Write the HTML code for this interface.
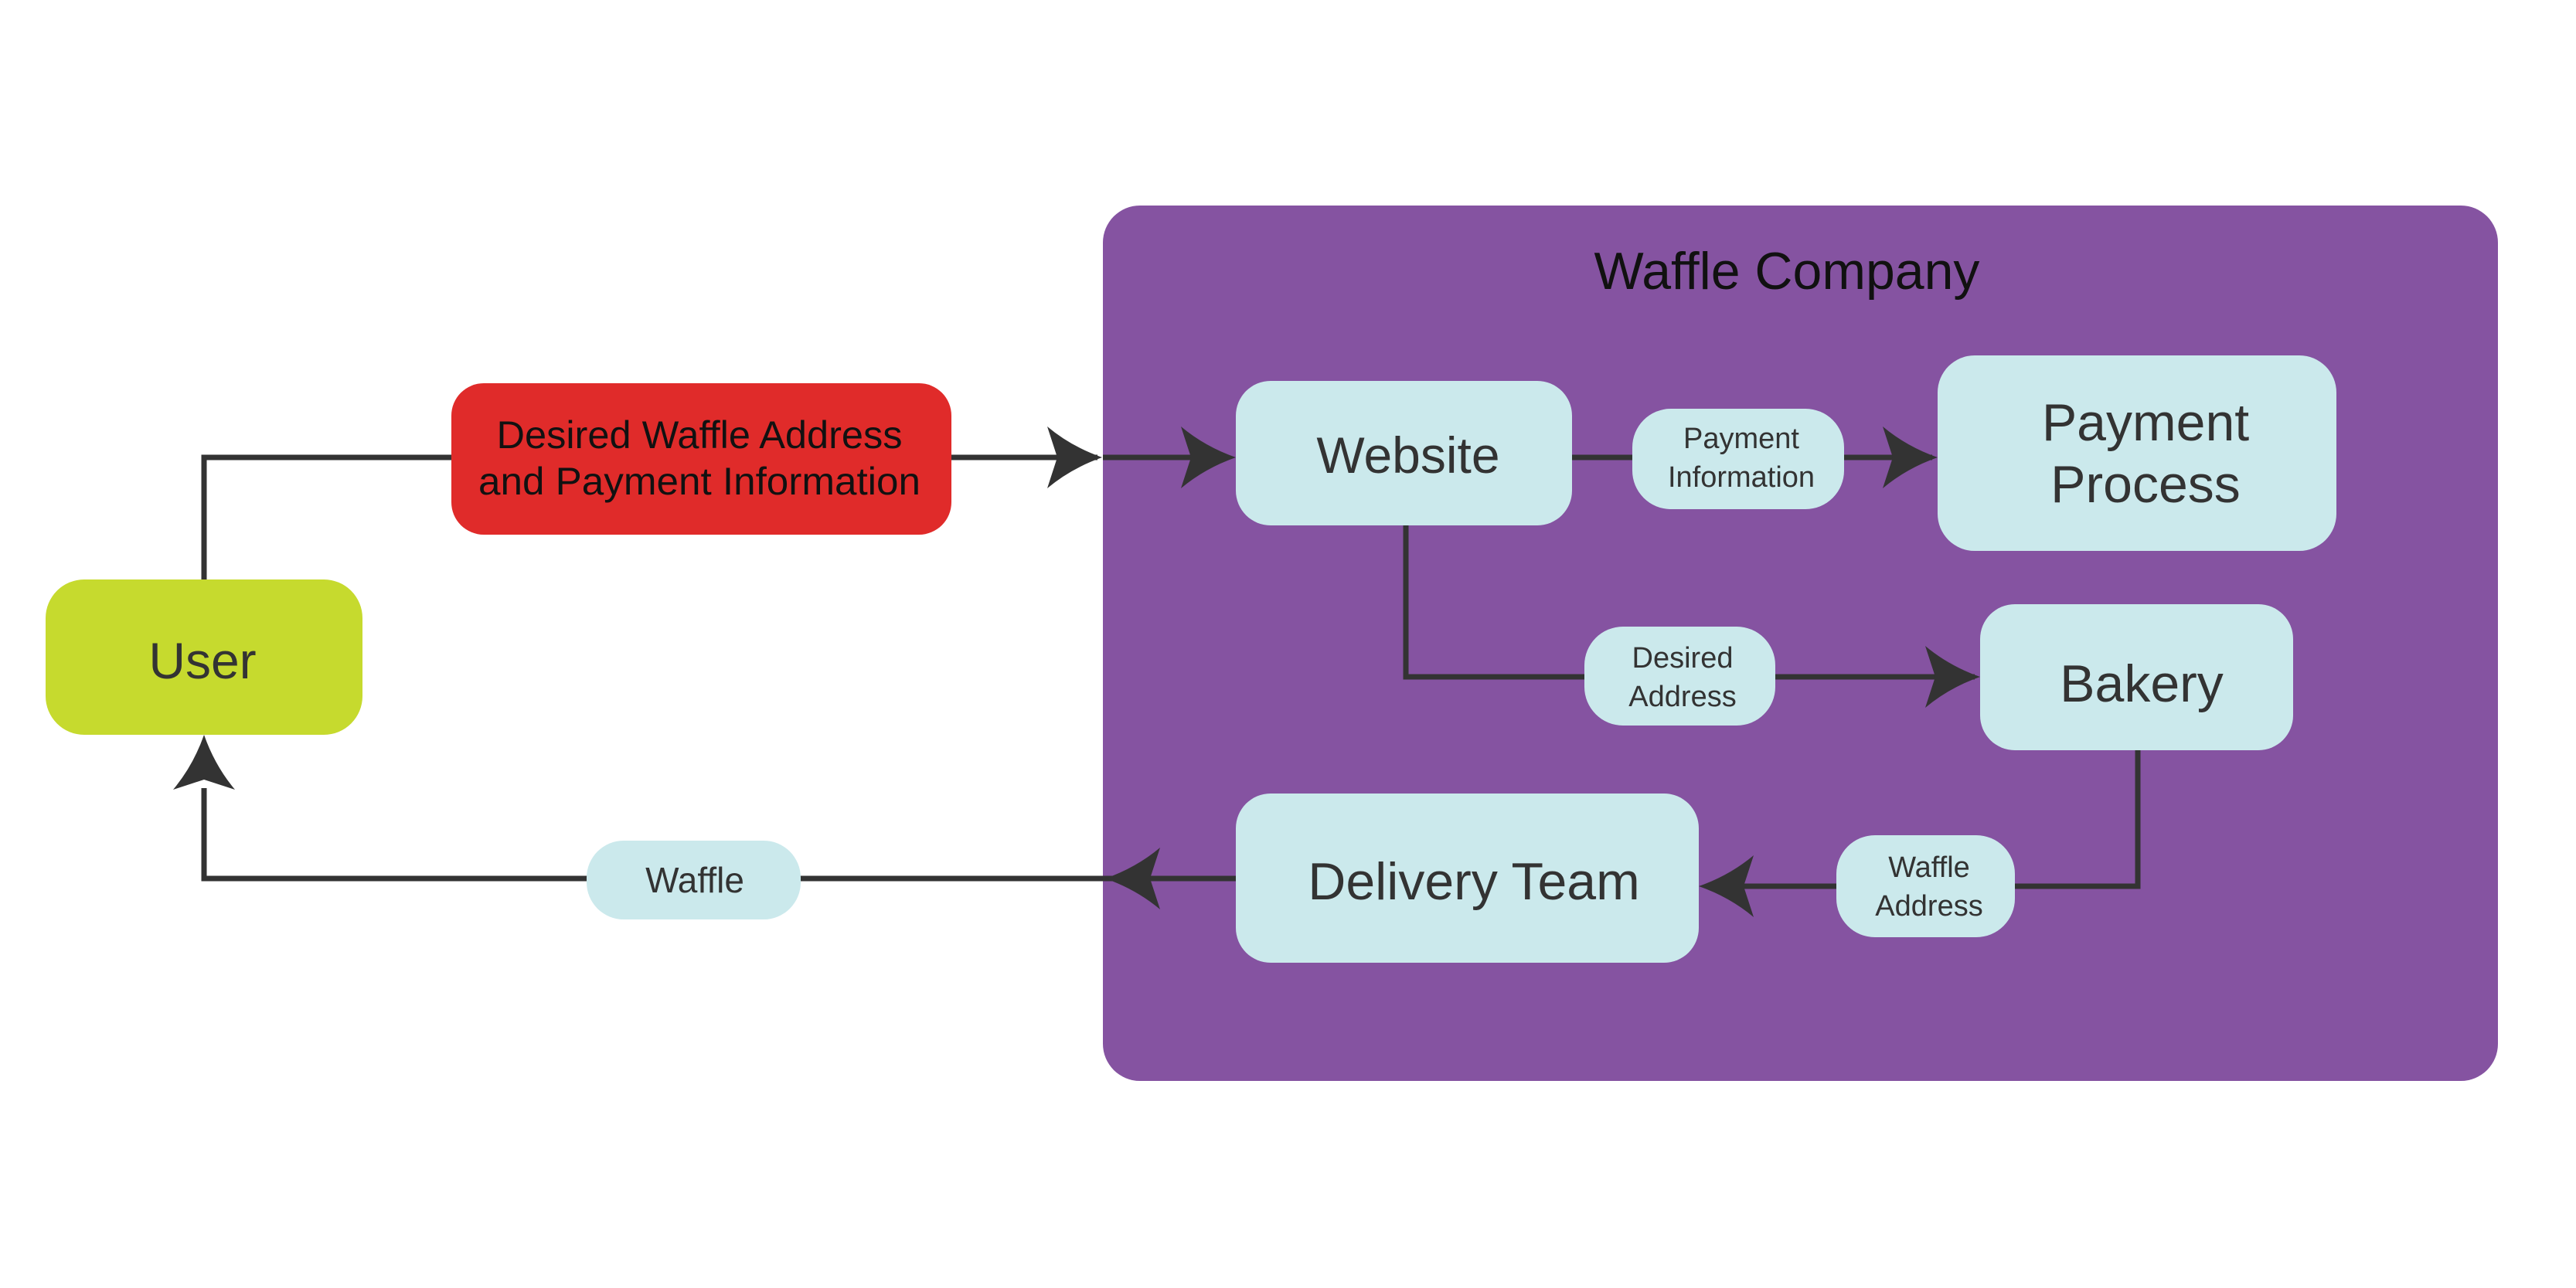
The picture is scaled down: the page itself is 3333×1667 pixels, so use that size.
<!DOCTYPE html>
<html><head><meta charset="utf-8"><style>
html,body{margin:0;padding:0;background:#fff;}
svg{display:block;}
text{font-family:"Liberation Sans Narrow","Liberation Sans",sans-serif;fill:#333;text-anchor:middle;}
</style></head><body>
<svg width="3333" height="1667" viewBox="0 0 3333 1667" xmlns="http://www.w3.org/2000/svg">
<defs>
<path id="ah" d="M0,0 Q-40,-14 -71,-40 L-58,0 L-71,40 Q-40,14 0,0 Z" fill="#333"/>
</defs>
<rect x="1427" y="266" width="1805" height="1133" rx="48" fill="#8553a1"/>
<text x="2312" y="374" font-size="68" style="fill:#111">Waffle Company</text>

<g stroke="#333" stroke-width="7" fill="none">
<path d="M264,750 V592 H1420"/>
<path d="M1427,592 H1590"/>
<path d="M2034,592 H2500"/>
<path d="M1819,680 V876 H2555"/>
<path d="M2766,971 V1147 H2215"/>
<path d="M1599,1137 H264 V1020"/>
</g>
<use href="#ah" x="1426" y="592"/>
<use href="#ah" x="1599" y="592"/>
<use href="#ah" x="2507" y="592"/>
<use href="#ah" x="2562" y="876"/>
<use href="#ah" transform="translate(2198,1147) rotate(180)"/>
<use href="#ah" transform="translate(1430,1137) rotate(180)"/>
<use href="#ah" transform="translate(264,951) rotate(-90)"/>

<rect x="59" y="750" width="410" height="201" rx="50" fill="#c6da2e"/>
<text x="262" y="878" font-size="66">User</text>

<rect x="584" y="496" width="647" height="196" rx="42" fill="#e02b2a"/>
<text x="905" y="580" font-size="50" textLength="525" lengthAdjust="spacingAndGlyphs" style="fill:#111">Desired Waffle Address</text>
<text x="905" y="640" font-size="50" textLength="572" lengthAdjust="spacingAndGlyphs" style="fill:#111">and Payment Information</text>

<rect x="1599" y="493" width="435" height="187" rx="45" fill="#cbe9ec"/>
<text x="1822" y="612" font-size="66">Website</text>

<rect x="2112" y="529" width="274" height="130" rx="50" fill="#cbe9ec"/>
<text x="2253" y="580" font-size="38">Payment</text>
<text x="2253" y="630" font-size="38">Information</text>

<rect x="2507" y="460" width="516" height="253" rx="48" fill="#cbe9ec"/>
<text x="2776" y="570" font-size="68">Payment</text>
<text x="2776" y="650" font-size="68">Process</text>

<rect x="2050" y="811" width="247" height="128" rx="50" fill="#cbe9ec"/>
<text x="2177" y="864" font-size="38">Desired</text>
<text x="2177" y="914" font-size="38">Address</text>

<rect x="2562" y="782" width="405" height="189" rx="45" fill="#cbe9ec"/>
<text x="2771" y="908" font-size="68">Bakery</text>

<rect x="1599" y="1027" width="599" height="219" rx="45" fill="#cbe9ec"/>
<text x="1907" y="1164" font-size="68">Delivery Team</text>

<rect x="2376" y="1081" width="231" height="132" rx="50" fill="#cbe9ec"/>
<text x="2496" y="1135" font-size="38">Waffle</text>
<text x="2496" y="1185" font-size="38">Address</text>

<rect x="759" y="1088" width="277" height="102" rx="48" fill="#cbe9ec"/>
<text x="899" y="1155" font-size="46">Waffle</text>
</svg>
</body></html>
